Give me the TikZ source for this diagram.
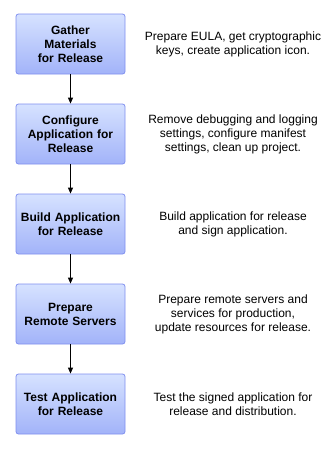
\documentclass[tikz,border=0pt]{standalone}
\usepackage{fontspec}
\setmainfont{Liberation Sans}
\usetikzlibrary{arrows.meta}
\definecolor{boxtop}{HTML}{D6E2FF}
\definecolor{boxbot}{HTML}{A2B3F9}
\definecolor{boxline}{HTML}{7F8FEF}
\tikzset{
  stepbox/.style={draw=boxline, line width=0.8pt, rounded corners=2.5pt,
    top color=boxtop, bottom color=boxbot,
    minimum width=109pt, minimum height=60pt, inner sep=0pt,
    align=center, font=\fontsize{12}{14}\selectfont\bfseries, text width=105pt},
  desc/.style={align=center, font=\fontsize{12}{14}\selectfont, inner sep=0pt},
  flow/.style={-{Triangle[length=6pt,width=5pt]}, line width=0.9pt, black}
}
\begin{document}
\begin{tikzpicture}[x=1pt,y=-1pt]
\useasboundingbox (0,0) rectangle (331,450);
\node[stepbox] (b1) at (70.5,44) {Gather\\Materials\\for Release};
\node[stepbox] (b2) at (70.5,134) {Configure\\Application for\\Release};
\node[stepbox] (b3) at (70.5,224) {Build Application\\for Release};
\node[stepbox] (b4) at (70.5,314) {Prepare\\Remote Servers};
\node[stepbox] (b5) at (70.5,404) {Test Application\\for Release};
\draw[flow] (b1.south) -- (b2.north);
\draw[flow] (b2.south) -- (b3.north);
\draw[flow] (b3.south) -- (b4.north);
\draw[flow] (b4.south) -- (b5.north);
\node[desc] (d1) at (233,44) {Prepare EULA, get cryptographic\\keys, create application icon.};
\node[desc] (d2) at (233,134) {Remove debugging and logging\\settings, configure manifest\\settings, clean up project.};
\node[desc] (d3) at (233,224) {Build application for release\\and sign application.};
\node[desc] (d4) at (233,314) {Prepare remote servers and\\services for production,\\update resources for release.};
\node[desc] (d5) at (233,404) {Test the signed application for\\release and distribution.};
\end{tikzpicture}
\end{document}
